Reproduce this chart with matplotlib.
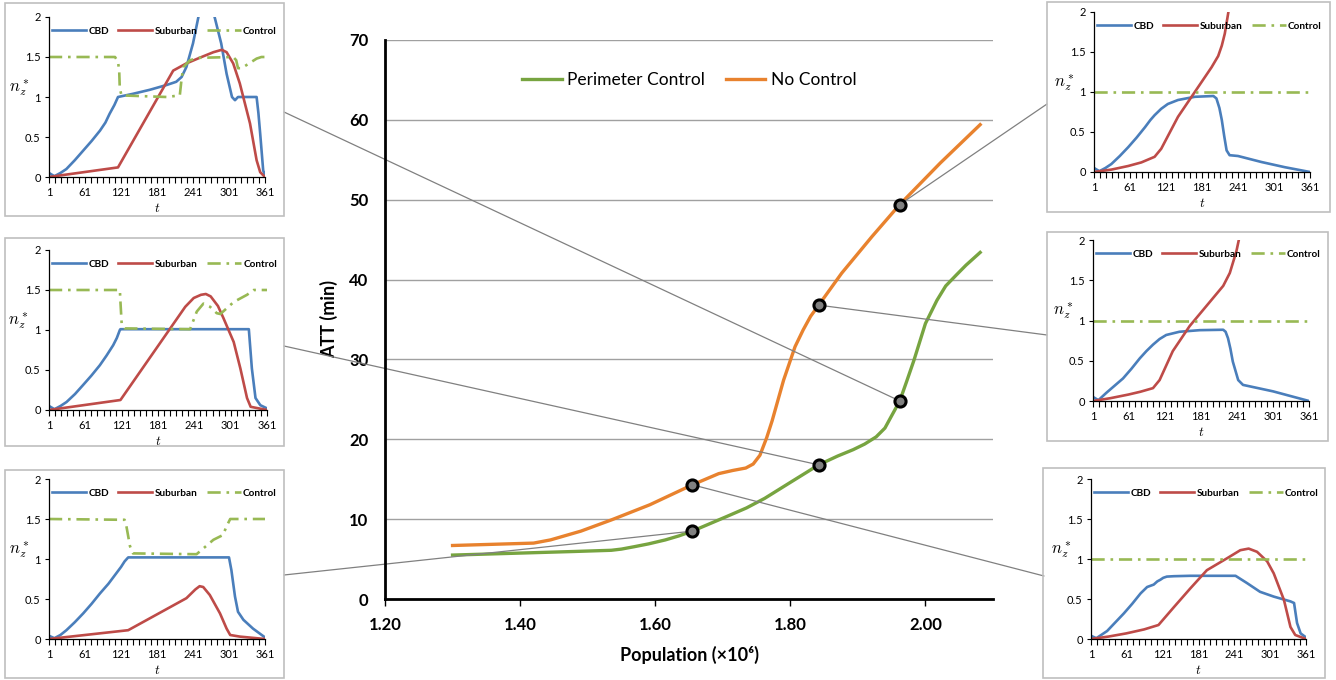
import matplotlib
matplotlib.use('Agg')
import matplotlib.pyplot as plt
from matplotlib.patches import Rectangle, ConnectionPatch

plt.rcParams['font.family'] = ['Lato', 'DejaVu Sans']
plt.rcParams['mathtext.fontset'] = 'cm'

# ---------------- main chart data ----------------
population_pc = [1.30, 1.36, 1.42, 1.48, 1.535, 1.55, 1.569, 1.59, 1.615, 1.635, 1.655, 1.68,
                 1.705, 1.735, 1.762, 1.80, 1.842, 1.87, 1.893, 1.91, 1.927, 1.94, 1.949, 1.962,
                 1.972, 1.983, 2.000, 2.017, 2.03, 2.046, 2.06, 2.081]
att_pc = [5.5, 5.65, 5.8, 5.95, 6.1, 6.25, 6.55, 6.9, 7.4, 7.9, 8.5, 9.4,
          10.3, 11.4, 12.6, 14.6, 16.8, 17.9, 18.7, 19.4, 20.3, 21.4, 22.8, 24.8,
          27.2, 29.9, 34.5, 37.4, 39.2, 40.6, 41.8, 43.4]
population_nc = [1.30, 1.36, 1.42, 1.445, 1.49, 1.535, 1.592, 1.655, 1.694, 1.715, 1.734, 1.745,
                 1.755, 1.765, 1.773, 1.782, 1.790, 1.807, 1.819, 1.83, 1.842, 1.876, 1.921,
                 1.962, 2.022, 2.081]
att_nc = [6.7, 6.85, 7.0, 7.4, 8.5, 9.9, 11.8, 14.3, 15.7, 16.1, 16.4, 16.9,
          18.0, 20.2, 22.3, 25.0, 27.4, 31.6, 33.7, 35.4, 36.8, 40.8, 45.4,
          49.4, 54.6, 59.4]
sample_pop = [1.655, 1.842, 1.962]
sample_att_pc = [8.5, 16.8, 24.8]
sample_att_nc = [14.3, 36.8, 49.4]
x_ticks = [1.20, 1.40, 1.60, 1.80, 2.00]
y_ticks = [0, 10, 20, 30, 40, 50, 60, 70]

# ---------------- inset data ----------------
inset_t_ticks = [1, 61, 121, 181, 241, 301, 361]
inset_v_ticks = [0, 0.5, 1, 1.5, 2]

# Perimeter control, population 1.962 (top-left)
pch_cbd_t = [1, 10, 20, 30, 44, 58, 72, 86, 95, 102, 110, 116, 141, 169, 197, 213, 222, 230, 241,
             250, 263, 277, 288, 297, 306, 311, 316, 347, 350, 353, 358, 361]
pch_cbd_v = [0.05, 0.01, 0.05, 0.1, 0.21, 0.33, 0.45, 0.58, 0.68, 0.79, 0.9, 1.0, 1.04, 1.09, 1.15,
             1.19, 1.25, 1.375, 1.67, 2.0, 2.5, 2.0, 1.67, 1.29, 1.0, 0.96, 1.0, 1.0, 0.8, 0.54,
             0.08, 0.03]
pch_sub_t = [1, 116, 208, 230, 252, 275, 289, 297, 308, 319, 336, 347, 353, 361]
pch_sub_v = [0, 0.12, 1.33, 1.42, 1.49, 1.56, 1.59, 1.56, 1.42, 1.17, 0.67, 0.21, 0.06, 0]
pch_ctl_t = [1, 111, 116, 118, 119, 122, 197, 219, 222, 225, 236, 252, 308, 313, 316, 322, 347,
             355, 361]
pch_ctl_v = [1.5, 1.5, 1.44, 1.33, 1.1, 1.02, 1.0, 1.02, 1.23, 1.375, 1.46, 1.49, 1.5, 1.46, 1.36,
             1.36, 1.48, 1.5, 1.5]

# Perimeter control, population 1.842 (middle-left)
pcm_cbd_t = [1, 10, 20, 30, 44, 57, 71, 85, 96, 107, 113, 118, 119, 331, 336, 342, 350, 361]
pcm_cbd_v = [0.05, 0.01, 0.05, 0.1, 0.2, 0.31, 0.43, 0.56, 0.68, 0.81, 0.9, 1.0, 1.01, 1.01, 0.52,
             0.15, 0.06, 0.02]
pcm_sub_t = [1, 119, 226, 240, 252, 260, 268, 280, 289, 306, 317, 328, 334, 361]
pcm_sub_v = [0, 0.125, 1.29, 1.4, 1.44, 1.45, 1.42, 1.3, 1.15, 0.85, 0.52, 0.15, 0.04, 0]
pcm_ctl_t = [1, 118, 119, 121, 126, 234, 245, 256, 267, 278, 284, 306, 328, 339, 361]
pcm_ctl_v = [1.5, 1.5, 1.35, 1.08, 1.02, 1.01, 1.23, 1.33, 1.29, 1.21, 1.2, 1.35, 1.44, 1.5, 1.5]

# Perimeter control, population 1.655 (bottom-left)
pcl_cbd_t = [1, 10, 20, 30, 44, 58, 72, 86, 100, 113, 121, 127, 133, 301, 305, 311, 316, 325,
             341, 361]
pcl_cbd_v = [0.04, 0.01, 0.05, 0.11, 0.21, 0.32, 0.44, 0.57, 0.69, 0.82, 0.9, 0.97, 1.02, 1.02,
             0.86, 0.53, 0.34, 0.24, 0.13, 0.02]
pcl_sub_t = [1, 133, 230, 245, 252, 258, 269, 286, 297, 303, 319, 361]
pcl_sub_v = [0, 0.11, 0.51, 0.62, 0.66, 0.65, 0.55, 0.32, 0.13, 0.05, 0.03, 0]
pcl_ctl_t = [1, 127, 130, 136, 141, 247, 275, 291, 297, 303, 361]
pcl_ctl_v = [1.5, 1.49, 1.41, 1.16, 1.07, 1.06, 1.24, 1.3, 1.41, 1.5, 1.5]

# No control, population 1.962 (top-right)
nch_cbd_t = [1, 10, 20, 30, 44, 58, 72, 86, 95, 102, 113, 124, 141, 169, 200, 205, 210, 214, 218,
             222, 227, 241, 280, 319, 361]
nch_cbd_v = [0.05, 0.01, 0.05, 0.1, 0.2, 0.31, 0.43, 0.56, 0.65, 0.71, 0.79, 0.85, 0.9, 0.94, 0.95,
             0.92, 0.8, 0.65, 0.45, 0.27, 0.21, 0.2, 0.125, 0.06, 0]
nch_sub_t = [1, 30, 58, 80, 102, 113, 141, 169, 197, 208, 214, 219, 225, 230]
nch_sub_v = [0, 0.03, 0.075, 0.12, 0.19, 0.29, 0.69, 1.0, 1.31, 1.45, 1.58, 1.73, 2.0, 2.4]
nch_ctl_t = [1, 361]
nch_ctl_v = [1.0, 1.0]

# No control, population 1.842 (middle-right)
ncm_cbd_t = [1, 10, 23, 37, 51, 65, 79, 90, 101, 112, 123, 145, 179, 218, 222, 226, 230, 234, 243,
             251, 301, 361]
ncm_cbd_v = [0.05, 0.01, 0.1, 0.19, 0.28, 0.4, 0.53, 0.62, 0.7, 0.77, 0.82, 0.86, 0.88, 0.885,
             0.86, 0.78, 0.65, 0.49, 0.26, 0.2, 0.12, 0]
ncm_sub_t = [1, 30, 60, 80, 101, 112, 134, 162, 190, 218, 229, 240, 244, 249]
ncm_sub_v = [0, 0.035, 0.08, 0.115, 0.16, 0.26, 0.62, 0.93, 1.18, 1.43, 1.59, 1.86, 2.0, 2.4]
ncm_ctl_t = [1, 361]
ncm_ctl_v = [1.0, 1.0]

# No control, population 1.655 (bottom-right)
ncl_cbd_t = [1, 10, 18, 28, 42, 56, 70, 84, 95, 106, 112, 117, 122, 128, 140, 167, 243, 262, 284,
             307, 335, 341, 346, 352, 361]
ncl_cbd_v = [0.04, 0.01, 0.05, 0.1, 0.21, 0.32, 0.44, 0.57, 0.65, 0.68, 0.72, 0.74, 0.765, 0.78,
             0.785, 0.79, 0.79, 0.7, 0.59, 0.53, 0.47, 0.45, 0.2, 0.07, 0.02]
ncl_sub_t = [1, 30, 60, 90, 114, 140, 167, 195, 229, 251, 265, 279, 296, 307, 324, 335, 343, 361]
ncl_sub_v = [0, 0.03, 0.07, 0.12, 0.175, 0.4, 0.63, 0.86, 1.01, 1.11, 1.13, 1.09, 0.97, 0.82,
             0.49, 0.15, 0.05, 0]
ncl_ctl_t = [1, 361]
ncl_ctl_v = [1.0, 1.0]

# ---------------- styling ----------------
W, H = 1336, 680
C_CBD = '#4A7EBB'
C_SUB = '#BE4B48'
C_CTL = '#98B954'
C_PC = '#77A440'
C_NC = '#E8822E'

fig = plt.figure(figsize=(W / 100, H / 100), dpi=100)

# ---------------- main axes ----------------
ax = fig.add_axes([385 / W, 1 - 599 / H, (993 - 385) / W, (599 - 40) / H])
ax.plot(population_pc, att_pc, color=C_PC, lw=2.4, label='Perimeter Control', zorder=3)
ax.plot(population_nc, att_nc, color=C_NC, lw=2.4, label='No Control', zorder=3)
ax.plot(sample_pop, sample_att_pc, 'o', ms=8, mfc='#808080', mec='black', mew=2.2, zorder=6)
ax.plot(sample_pop, sample_att_nc, 'o', ms=8, mfc='#808080', mec='black', mew=2.2, zorder=6)
ax.set_xlim(1.2, 2.1)
ax.set_ylim(0, 70)
ax.set_xticks(x_ticks)
ax.set_xticklabels(['%.2f' % v for v in x_ticks], fontsize=12, fontweight='bold')
ax.set_yticks(y_ticks)
ax.set_yticklabels([str(v) for v in y_ticks], fontsize=12, fontweight='bold')
ax.tick_params(axis='y', length=0, pad=12)
ax.tick_params(axis='x', length=5, width=1, direction='out', pad=8)
for y in y_ticks[1:]:
    ax.axhline(y, color='#A0A0A0', lw=1, zorder=1)
for s in ['top', 'right']:
    ax.spines[s].set_visible(False)
for s in ['left', 'bottom']:
    ax.spines[s].set_linewidth(2)
    ax.spines[s].set_color('black')
    ax.spines[s].set_zorder(5)
ax.set_ylabel('ATT (min)', fontsize=13, fontweight='bold', labelpad=8)
ax.set_xlabel('Population (×10⁶)', fontsize=13, fontweight='bold', labelpad=9)
ax.legend(loc='center', bbox_to_anchor=(0.5, 0.928), ncol=2, frameon=False, fontsize=12.5,
          handlelength=2.3, handletextpad=0.3, columnspacing=1.2)

# ---------------- insets ----------------
def make_inset(box, frame, cbd_t, cbd_v, sub_t, sub_v, ctl_t, ctl_v):
    x0, x1, yt, yb = box
    fx0, fy0, fx1, fy1 = frame
    fig.add_artist(Rectangle((fx0 / W, 1 - fy1 / H), (fx1 - fx0) / W, (fy1 - fy0) / H,
                             transform=fig.transFigure, fill=False, ec='#BFBFBF', lw=1.2))
    a = fig.add_axes([x0 / W, 1 - yb / H, (x1 - x0) / W, (yb - yt) / H])
    a.plot(cbd_t, cbd_v, color=C_CBD, lw=1.9, label='CBD')
    a.plot(sub_t, sub_v, color=C_SUB, lw=1.9, label='Suburban')
    a.plot(ctl_t, ctl_v, color=C_CTL, lw=1.9, ls=(0, (5, 2.2, 1, 2.2)), label='Control')
    a.set_xlim(1, 361)
    a.set_ylim(0, 2)
    a.set_xticks(inset_t_ticks)
    a.set_xticks(list(range(1, 362, 10)), minor=True)
    a.set_xticklabels([str(v) for v in inset_t_ticks], fontsize=8)
    a.set_yticks(inset_v_ticks)
    a.set_yticklabels(['0', '0.5', '1', '1.5', '2'], fontsize=8)
    a.tick_params(axis='x', which='both', length=4, width=0.8, direction='out', pad=3)
    a.tick_params(axis='y', length=3, width=0.8, direction='out', pad=3)
    for s in ['top', 'right']:
        a.spines[s].set_visible(False)
    for s in ['left', 'bottom']:
        a.spines[s].set_linewidth(0.9)
    a.patch.set_alpha(0)
    a.text(-0.14, 0.556, r'$n_z^*$', transform=a.transAxes, fontsize=12, ha='center', va='center')
    a.text(0.5, -0.19, r'$t$', transform=a.transAxes, fontsize=9.5, ha='center', va='center')
    a.legend(loc='center left', bbox_to_anchor=(0.015, 0.91), ncol=3, frameon=False,
             prop={'size': 7.2, 'weight': 'bold'}, handlelength=3.4, handletextpad=0.25,
             columnspacing=0.9, borderaxespad=0, borderpad=0)
    return a

make_inset((49, 265, 17, 177), (5, 3, 284, 216), pch_cbd_t, pch_cbd_v, pch_sub_t, pch_sub_v,
           pch_ctl_t, pch_ctl_v)
make_inset((49, 267, 250, 410), (5, 238, 284, 446), pcm_cbd_t, pcm_cbd_v, pcm_sub_t, pcm_sub_v,
           pcm_ctl_t, pcm_ctl_v)
make_inset((49, 265, 479, 639), (5, 470, 284, 678), pcl_cbd_t, pcl_cbd_v, pcl_sub_t, pcl_sub_v,
           pcl_ctl_t, pcl_ctl_v)
make_inset((1094, 1310, 12, 172), (1047, 2, 1330, 212), nch_cbd_t, nch_cbd_v, nch_sub_t, nch_sub_v,
           nch_ctl_t, nch_ctl_v)
make_inset((1093, 1309, 240, 401), (1047, 232, 1328, 441), ncm_cbd_t, ncm_cbd_v, ncm_sub_t,
           ncm_sub_v, ncm_ctl_t, ncm_ctl_v)
make_inset((1091, 1306, 479, 639), (1043, 468, 1325, 678), ncl_cbd_t, ncl_cbd_v, ncl_sub_t,
           ncl_sub_v, ncl_ctl_t, ncl_ctl_v)

# ---------------- connectors ----------------
anchors_left = [(284, 575), (284, 346), (284, 112)]
anchors_right = [(1044, 576), (1047, 335), (1047, 104)]
for i in range(3):
    for (px, py), att in ((anchors_left[i], sample_att_pc[i]), (anchors_right[i], sample_att_nc[i])):
        con = ConnectionPatch(xyA=(px / W, 1 - py / H), coordsA='figure fraction',
                              xyB=(sample_pop[i], att), coordsB='data', axesB=ax,
                              color='#808080', lw=0.9, zorder=4)
        ax.add_artist(con)
        con.set_clip_on(False)

fig.savefig('out.png', dpi=100)
